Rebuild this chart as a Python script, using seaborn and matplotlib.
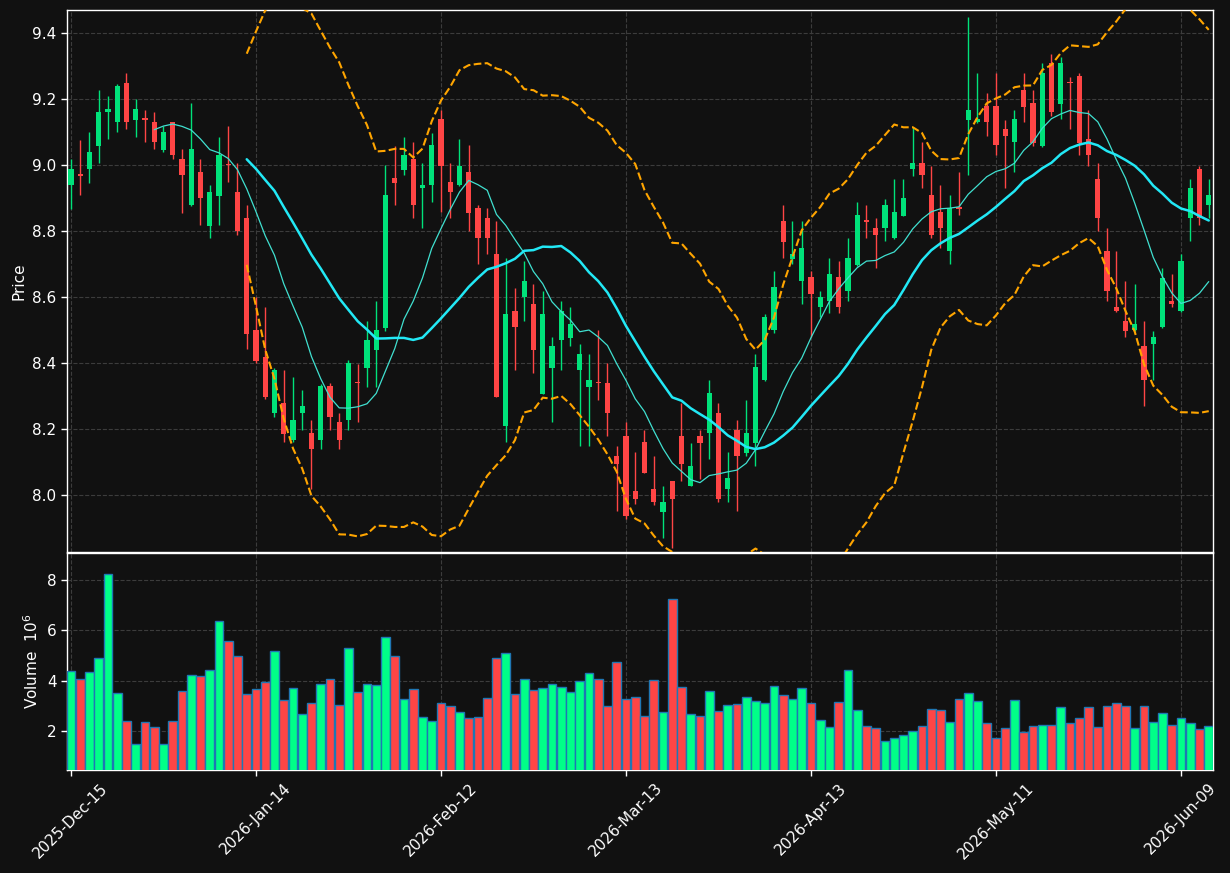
import numpy as np
import pandas as pd
import matplotlib
matplotlib.use('Agg')
import matplotlib.pyplot as plt
import seaborn as sns

# tick labels (every 20 trading days, NYSE calendar)
tick_labels = ['2025-Dec-15', '2026-Jan-14', '2026-Feb-12', '2026-Mar-13', '2026-Apr-13', '2026-May-11', '2026-Jun-09']

opens = [8.938, 8.971, 8.987, 9.058, 9.160, 9.129, 9.248, 9.138, 9.141, 9.130,
         9.047, 9.130, 9.019, 8.878, 8.979, 8.816, 8.907, 9.002, 8.919, 8.840,
         8.501, 8.419, 8.247, 8.280, 8.166, 8.249, 8.189, 8.166, 8.329, 8.220,
         8.226, 8.342, 8.385, 8.440, 8.507, 8.960, 8.985, 9.019, 8.929, 8.938,
         9.139, 8.948, 8.938, 8.979, 8.871, 8.840, 8.731, 8.208, 8.558, 8.599,
         8.579, 8.307, 8.385, 8.469, 8.476, 8.378, 8.327, 8.342, 8.340, 8.119,
         8.179, 8.011, 8.160, 8.019, 7.947, 8.041, 8.179, 8.028, 8.179, 8.187,
         8.249, 8.019, 8.198, 8.126, 8.158, 8.349, 8.500, 8.831, 8.715, 8.648,
         8.660, 8.569, 8.589, 8.660, 8.618, 8.698, 8.832, 8.809, 8.808, 8.778,
         8.847, 8.987, 9.007, 8.909, 8.859, 8.739, 8.871, 9.138, 9.129, 9.178,
         9.178, 9.110, 9.069, 9.228, 9.187, 9.058, 9.309, 9.186, 9.251, 9.270,
         9.079, 8.959, 8.740, 8.569, 8.528, 8.500, 8.450, 8.457, 8.509, 8.589,
         8.557, 8.838, 8.988, 8.878]
highs = [9.019, 9.077, 9.099, 9.228, 9.208, 9.246, 9.278, 9.199, 9.168, 9.160,
         9.118, 9.132, 9.048, 9.187, 9.019, 8.940, 9.086, 9.117, 9.007, 8.878,
         8.601, 8.569, 8.385, 8.379, 8.357, 8.318, 8.227, 8.336, 8.340, 8.249,
         8.410, 8.396, 8.526, 8.589, 9.000, 9.058, 9.085, 9.070, 9.007, 9.098,
         9.168, 9.007, 9.079, 9.060, 8.878, 8.871, 8.830, 8.718, 8.627, 8.709,
         8.640, 8.618, 8.479, 8.589, 8.569, 8.457, 8.428, 8.501, 8.399, 8.149,
         8.220, 8.129, 8.198, 8.119, 8.026, 8.041, 8.279, 8.158, 8.198, 8.349,
         8.279, 8.129, 8.227, 8.289, 8.428, 8.548, 8.680, 8.879, 8.830, 8.830,
         8.680, 8.618, 8.718, 8.709, 8.778, 8.888, 8.878, 8.838, 8.898, 8.959,
         8.959, 9.114, 9.069, 8.997, 8.940, 8.909, 8.979, 9.448, 9.278, 9.218,
         9.278, 9.138, 9.168, 9.278, 9.228, 9.308, 9.337, 9.328, 9.268, 9.278,
         9.168, 9.007, 8.808, 8.739, 8.649, 8.639, 8.528, 8.498, 8.689, 8.670,
         8.731, 8.959, 8.998, 8.959]
lows = [8.868, 8.909, 8.947, 9.007, 9.079, 9.099, 9.108, 9.086, 9.070, 9.048,
        9.040, 9.019, 8.856, 8.875, 8.818, 8.780, 8.818, 8.948, 8.787, 8.441,
        8.400, 8.290, 8.237, 8.160, 8.160, 8.198, 8.019, 8.139, 8.198, 8.139,
        8.198, 8.220, 8.327, 8.327, 8.498, 8.879, 8.969, 8.838, 8.809, 8.888,
        8.859, 8.838, 8.935, 8.799, 8.701, 8.730, 8.297, 8.160, 8.379, 8.528,
        8.369, 8.305, 8.220, 8.379, 8.450, 8.149, 8.149, 8.289, 8.179, 7.950,
        7.926, 7.971, 8.066, 7.968, 7.868, 7.838, 8.041, 8.028, 8.048, 8.110,
        7.979, 7.979, 7.950, 8.119, 8.089, 8.345, 8.490, 8.718, 8.701, 8.579,
        8.479, 8.539, 8.550, 8.550, 8.589, 8.695, 8.778, 8.688, 8.770, 8.775,
        8.845, 8.967, 8.929, 8.778, 8.748, 8.701, 8.850, 8.969, 9.127, 9.088,
        9.029, 8.929, 8.979, 9.129, 9.058, 9.055, 9.149, 9.139, 9.108, 9.029,
        8.998, 8.799, 8.589, 8.555, 8.479, 8.498, 8.270, 8.349, 8.507, 8.569,
        8.555, 8.770, 8.818, 8.838]
closes = [8.988, 8.968, 9.039, 9.161, 9.170, 9.239, 9.129, 9.170, 9.138, 9.069,
          9.099, 9.029, 8.969, 9.048, 8.899, 8.919, 9.030, 8.999, 8.799, 8.488,
          8.407, 8.297, 8.379, 8.186, 8.228, 8.271, 8.139, 8.329, 8.237, 8.166,
          8.399, 8.339, 8.469, 8.501, 8.909, 8.947, 9.030, 8.878, 8.940, 9.061,
          8.998, 8.918, 8.998, 8.856, 8.778, 8.778, 8.297, 8.548, 8.509, 8.649,
          8.440, 8.548, 8.451, 8.558, 8.519, 8.428, 8.349, 8.339, 8.249, 8.095,
          7.937, 7.988, 8.066, 7.978, 7.979, 7.988, 8.095, 8.089, 8.158, 8.309,
          7.988, 8.050, 8.119, 8.187, 8.388, 8.540, 8.629, 8.768, 8.730, 8.749,
          8.608, 8.599, 8.670, 8.569, 8.718, 8.849, 8.828, 8.788, 8.878, 8.859,
          8.900, 9.007, 8.969, 8.788, 8.808, 8.869, 8.868, 9.168, 9.140, 9.129,
          9.060, 9.088, 9.139, 9.177, 9.067, 9.278, 9.160, 9.309, 9.248, 9.067,
          9.029, 8.838, 8.618, 8.557, 8.498, 8.519, 8.349, 8.479, 8.658, 8.579,
          8.709, 8.929, 8.838, 8.909]
# volume in millions
volumes = [4.37, 4.06, 4.33, 4.89, 8.23, 3.50, 2.38, 1.47, 2.34, 2.14,
           1.47, 2.38, 3.57, 4.21, 4.17, 4.44, 6.36, 5.57, 4.97, 3.46,
           3.65, 3.94, 5.18, 3.23, 3.69, 2.67, 3.13, 3.86, 4.06, 3.05,
           5.29, 3.54, 3.86, 3.83, 5.72, 4.97, 3.27, 3.65, 2.57, 2.38,
           3.13, 3.01, 2.74, 2.53, 2.57, 3.30, 4.89, 5.08, 3.46, 4.06,
           3.61, 3.69, 3.88, 3.73, 3.54, 3.98, 4.29, 4.06, 3.01, 4.73,
           3.27, 3.34, 2.61, 4.02, 2.74, 7.25, 3.73, 2.67, 2.61, 3.57,
           2.78, 3.05, 3.09, 3.34, 3.21, 3.13, 3.77, 3.42, 3.27, 3.69,
           3.13, 2.42, 2.14, 3.17, 4.41, 2.82, 2.18, 2.11, 1.62, 1.74,
           1.86, 2.01, 2.18, 2.86, 2.82, 2.34, 3.27, 3.50, 3.21, 2.30,
           1.74, 2.11, 3.25, 1.95, 2.18, 2.22, 2.22, 2.94, 2.30, 2.53,
           2.94, 2.14, 3.01, 3.13, 3.01, 2.11, 2.98, 2.34, 2.71, 2.22,
           2.53, 2.30, 2.07, 2.18]

BG = '#111111'
UP, DOWN = '#00E27A', '#FF4545'
VOL_UP, VOL_DOWN = '#00FF88', '#FF4545'

sns.set_style('darkgrid', rc={'axes.facecolor': BG, 'figure.facecolor': BG, 'savefig.facecolor': BG,
                              'axes.edgecolor': 'white', 'grid.color': '#3c3c3c', 'grid.linestyle': '--',
                              'grid.linewidth': 0.8, 'text.color': 'white', 'axes.labelcolor': 'white',
                              'xtick.color': 'white', 'ytick.color': 'white',
                              'xtick.bottom': True, 'ytick.left': True})
plt.rcParams['font.family'] = ['DejaVu Sans']

df = pd.DataFrame({'open': opens, 'high': highs, 'low': lows, 'close': closes, 'volume': volumes})
df['idx'] = np.arange(len(df))
df['ma10'] = df['close'].rolling(10).mean()
df['ma20'] = df['close'].rolling(20).mean()
std20 = df['close'].rolling(20).std(ddof=0)
df['upper'] = df['ma20'] + 2 * std20
df['lower'] = df['ma20'] - 2 * std20
up = df['close'] >= df['open']

W, H = 1230, 873
fig = plt.figure(figsize=(W / 100, H / 100), dpi=100)
ax = fig.add_axes([67 / W, 1 - 552 / H, (1213 - 67) / W, 542 / H])
axv = fig.add_axes([67 / W, 1 - 770 / H, (1213 - 67) / W, 217 / H], sharex=ax)

# candles
colors = np.where(up, UP, DOWN)
ax.vlines(df['idx'], df['low'], df['high'], colors=colors, linewidth=1, zorder=2)
body = (df['close'] - df['open']).abs().clip(lower=0.004)
ax.bar(df['idx'], body, bottom=df[['open', 'close']].min(axis=1), width=0.58, color=colors, linewidth=0, zorder=3)

# moving averages and bands
sns.lineplot(data=df, x='idx', y='ma10', ax=ax, color='#40E0D0', linewidth=0.9, zorder=4)
sns.lineplot(data=df, x='idx', y='ma20', ax=ax, color='#22E8F5', linewidth=1.8, zorder=4)
sns.lineplot(data=df, x='idx', y='upper', ax=ax, color='#FFA500', linewidth=1.5, linestyle='--', zorder=4)
sns.lineplot(data=df, x='idx', y='lower', ax=ax, color='#FFA500', linewidth=1.5, linestyle='--', zorder=4)

# volume
axv.bar(df['idx'], df['volume'], width=0.95, color=np.where(up, VOL_UP, VOL_DOWN),
        edgecolor='#1f77b4', linewidth=1, zorder=3)

ticks = np.arange(0, len(df), 20)
ax.set_xlim(-0.43, 123.46)
ax.set_ylim(7.827, 9.47)
ax.set_yticks(np.arange(8.0, 9.41, 0.2))
ax.set_yticklabels([f'{t:.1f}' for t in np.arange(8.0, 9.41, 0.2)])
ax.set_xticks(ticks)
ax.tick_params(axis='x', labelbottom=False, length=0)
ax.tick_params(axis='y', labelsize=11, length=4, width=1)
ax.set_ylabel('Price', fontsize=11)
ax.set_xlabel('')

axv.set_ylim(0.45, 9.07)
axv.set_yticks([2, 4, 6, 8])
axv.set_xticks(ticks)
axv.set_xticklabels(tick_labels, rotation=45, ha='center')
axv.tick_params(axis='x', labelsize=11, length=4, width=1)
axv.tick_params(axis='y', labelsize=11, length=4, width=1)
axv.set_ylabel(r'Volume  $10^{6}$', fontsize=11)

for a in (ax, axv):
    for s in a.spines.values():
        s.set_color('white')
        s.set_linewidth(1)
    a.grid(True, color='#3c3c3c', linestyle='--', linewidth=0.8)

fig.savefig('out.png', dpi=100, facecolor=BG)
